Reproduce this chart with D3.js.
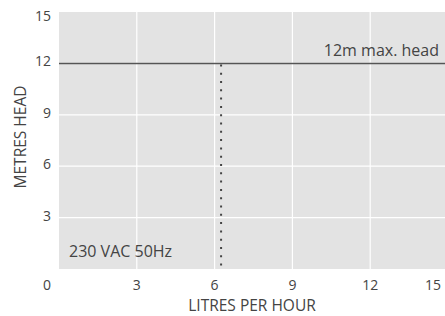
<!DOCTYPE html>
<html>
<head>
<meta charset="utf-8">
<script src="https://cdn.jsdelivr.net/npm/d3@7"></script>
<style>
  body { margin: 0; background: #fff; }
  text { font-family: "Open Sans", sans-serif; fill: #444; }
</style>
</head>
<body>
<div id="chart"></div>
<script>
// values
const xTicks = [3, 6, 9, 12, 15];
const yTicks = [3, 6, 9, 12, 15];
const maxHead = [12];
const flowLine = [6.25];
const labels = ["230 VAC 50Hz", "12m max. head"];

const W = 445, H = 316;
const margin = {top: 12, right: -3, bottom: 47, left: 59};

const x = d3.scaleLinear().domain([0, 15]).range([margin.left, W - margin.right]);
const y = d3.scaleLinear().domain([0, 15]).range([H - margin.bottom, margin.top]);

const svg = d3.select("#chart").append("svg")
  .attr("width", W).attr("height", H);

// plot background
svg.append("rect")
  .attr("x", x(0)).attr("y", y(15))
  .attr("width", x(15) - x(0)).attr("height", y(0) - y(15))
  .attr("fill", "#e3e3e3");

// grid
svg.append("g").selectAll("line").data(xTicks.filter(d => d < 15)).enter().append("line")
  .attr("x1", d => x(d)).attr("x2", d => x(d))
  .attr("y1", y(0)).attr("y2", y(15))
  .attr("stroke", "#fff").attr("stroke-width", 1.2);
svg.append("g").selectAll("line").data(yTicks.filter(d => d < 15)).enter().append("line")
  .attr("x1", x(0)).attr("x2", x(15))
  .attr("y1", d => y(d)).attr("y2", d => y(d))
  .attr("stroke", "#fff").attr("stroke-width", 1.2);

// max head line
svg.selectAll("line.max").data(maxHead).enter().append("line")
  .attr("class", "max")
  .attr("x1", x(0)).attr("x2", x(15))
  .attr("y1", d => y(d)).attr("y2", d => y(d))
  .attr("stroke", "#555").attr("stroke-width", 1.5);

// dotted flow line
svg.selectAll("line.flow").data(flowLine).enter().append("line")
  .attr("class", "flow")
  .attr("x1", d => x(d)).attr("x2", d => x(d))
  .attr("y1", y(maxHead[0]) + 1).attr("y2", y(0))
  .attr("stroke", "#444").attr("stroke-width", 2)
  .attr("stroke-dasharray", "2,6.3");

// tick labels
svg.append("g").selectAll("text").data(xTicks).enter().append("text")
  .attr("x", d => Math.min(x(d), W - 4))
  .attr("y", y(0) + 21)
  .attr("text-anchor", d => x(d) > W - 10 ? "end" : "middle")
  .style("font-size", "14px")
  .text(d => d);
svg.append("g").selectAll("text").data(yTicks).enter().append("text")
  .attr("x", x(0) - 8).attr("y", d => Math.max(y(d) + 3, 21))
  .attr("text-anchor", "end")
  .style("font-size", "14px")
  .text(d => d);
svg.append("text")
  .attr("x", x(0) - 8).attr("y", y(0) + 21)
  .attr("text-anchor", "end")
  .style("font-size", "14px")
  .text("0");

// axis titles
svg.append("text")
  .attr("x", 252).attr("y", 311)
  .attr("text-anchor", "middle")
  .style("font-size", "15.5px")
  .text("LITRES PER HOUR");
svg.append("text")
  .attr("transform", "translate(26, 137) rotate(-90)")
  .attr("text-anchor", "middle")
  .style("font-size", "15.5px")
  .text("METRES HEAD");

// annotations
svg.append("text")
  .attr("x", x(0) + 10).attr("y", 257)
  .style("font-size", "16px")
  .text(labels[0]);
svg.append("text")
  .attr("x", 439).attr("y", y(maxHead[0]) - 7)
  .attr("text-anchor", "end")
  .style("font-size", "16px")
  .text(labels[1]);
</script>
</body>
</html>
